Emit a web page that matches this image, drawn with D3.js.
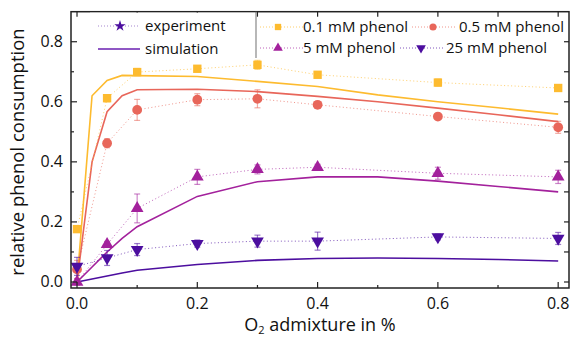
<!DOCTYPE html>
<html>
<head>
<meta charset="utf-8">
<script src="https://cdn.jsdelivr.net/npm/d3@7"></script>
<style>
  body { margin: 0; background: #fff; }
  svg { display: block; font-family: "Open Sans", sans-serif; }
</style>
</head>
<body>
<div id="chart"></div>
<script>
// experiment x positions (O2 admixture in %)
const expX = [0, 0.05, 0.1, 0.2, 0.3, 0.4, 0.6, 0.8];
const exp01 = [0.176, 0.612, 0.699, 0.71, 0.723, 0.69, 0.664, 0.646];
const err01 = [0.01, 0.012, 0.012, 0.01, 0.015, 0.01, 0.012, 0.01];
const exp05 = [0.042, 0.462, 0.573, 0.607, 0.61, 0.59, 0.551, 0.515];
const err05 = [0.03, 0.015, 0.035, 0.02, 0.03, 0.01, 0.01, 0.02];
const exp5 = [0.0, 0.125, 0.245, 0.35, 0.375, 0.382, 0.362, 0.35];
const err5 = [0.01, 0.01, 0.048, 0.025, 0.015, 0.01, 0.02, 0.022];
const exp25 = [0.052, 0.08, 0.108, 0.128, 0.136, 0.136, 0.15, 0.145];
const err25 = [0.03, 0.025, 0.02, 0.012, 0.02, 0.03, 0.01, 0.02];

// simulation curves
const simX = [0, 0.025, 0.05, 0.075, 0.1, 0.2, 0.3, 0.4, 0.5, 0.6, 0.7, 0.8];
const sim01 = [0, 0.62, 0.671, 0.688, 0.687, 0.684, 0.668, 0.651, 0.623, 0.60, 0.58, 0.559];
const sim05 = [0, 0.40, 0.567, 0.62, 0.64, 0.642, 0.634, 0.618, 0.60, 0.579, 0.557, 0.534];
const sim5 = [0, 0.05, 0.1, 0.145, 0.184, 0.285, 0.334, 0.35, 0.35, 0.336, 0.318, 0.30];
const sim25 = [0, 0.01, 0.02, 0.03, 0.039, 0.058, 0.072, 0.078, 0.08, 0.078, 0.075, 0.07];

const seriesNames = ["0.1 mM phenol", "0.5 mM phenol", "5 mM phenol", "25 mM phenol"];
const colors = ["#fdbb2f", "#e8665a", "#a3219c", "#4c0e9f"];
const symbols = [d3.symbolSquare, d3.symbolCircle, d3.symbolTriangle, d3.symbolTriangle];

const xTicks = [0, 0.2, 0.4, 0.6, 0.8];
const yTicks = [0, 0.2, 0.4, 0.6, 0.8];
const minorTicks = [0.1, 0.3, 0.5, 0.7];

const W = 570, H = 340;
const mLeft = 71, mRight = 569, mTop = 11.7, mBottom = 288;

const svg = d3.select("#chart").append("svg")
  .attr("width", W).attr("height", H);

const x = d3.scaleLinear().domain([-0.01, 0.818]).range([mLeft, mRight]);
const y = d3.scaleLinear().domain([-0.02, 0.9]).range([mBottom, mTop]);

const series = [
  { exp: exp01, err: err01, sim: sim01 },
  { exp: exp05, err: err05, sim: sim05 },
  { exp: exp5, err: err5, sim: sim5 },
  { exp: exp25, err: err25, sim: sim25 }
];

const plot = svg.append("g");

// simulation lines
const lineGen = d3.line().x(d => x(d[0])).y(d => y(d[1]));
series.forEach((s, i) => {
  plot.append("path")
    .datum(simX.map((v, j) => [v, s.sim[j]]))
    .attr("d", lineGen)
    .attr("fill", "none")
    .attr("stroke", colors[i])
    .attr("stroke-width", 1.6);
});

// experiment dotted lines, error bars, markers
series.forEach((s, i) => {
  const pts = expX.map((v, j) => [v, s.exp[j], s.err[j]]);
  plot.append("path")
    .datum(pts)
    .attr("d", lineGen)
    .attr("fill", "none")
    .attr("stroke", colors[i])
    .attr("stroke-opacity", 0.7)
    .attr("stroke-width", 1)
    .attr("stroke-dasharray", "1,2.5");

  const eb = plot.append("g").attr("stroke", colors[i]).attr("stroke-opacity", 0.55).attr("stroke-width", 1.2);
  pts.forEach(p => {
    const cx = x(p[0]);
    eb.append("line").attr("x1", cx).attr("x2", cx).attr("y1", y(p[1] - p[2])).attr("y2", y(p[1] + p[2]));
    eb.append("line").attr("x1", cx - 3).attr("x2", cx + 3).attr("y1", y(p[1] - p[2])).attr("y2", y(p[1] - p[2]));
    eb.append("line").attr("x1", cx - 3).attr("x2", cx + 3).attr("y1", y(p[1] + p[2])).attr("y2", y(p[1] + p[2]));
  });

  const size = i === 1 ? 75 : 70;
  plot.selectAll(null).data(pts).enter().append("path")
    .attr("d", d3.symbol().type(symbols[i]).size(size))
    .attr("transform", d => `translate(${x(d[0])},${y(d[1])})${i === 3 ? " rotate(180)" : ""}`)
    .attr("fill", colors[i]);
});

// axes frame with inward ticks
const ax = svg.append("g").attr("stroke", "#222");
ax.append("rect")
  .attr("x", mLeft).attr("y", mTop).attr("width", mRight - mLeft).attr("height", mBottom - mTop)
  .attr("fill", "none").attr("stroke-width", 1.5);

xTicks.forEach(t => {
  ax.append("line").attr("x1", x(t)).attr("x2", x(t)).attr("y1", mBottom).attr("y2", mBottom - 6).attr("stroke-width", 1.2);
  ax.append("line").attr("x1", x(t)).attr("x2", x(t)).attr("y1", mTop).attr("y2", mTop + 5).attr("stroke-width", 1.2);
});
minorTicks.forEach(t => {
  ax.append("line").attr("x1", x(t)).attr("x2", x(t)).attr("y1", mBottom).attr("y2", mBottom - 3).attr("stroke-width", 1.2);
  ax.append("line").attr("x1", x(t)).attr("x2", x(t)).attr("y1", mTop).attr("y2", mTop + 5).attr("stroke-width", 1.2);
  ax.append("line").attr("x1", mLeft).attr("x2", mLeft + 3).attr("y1", y(t)).attr("y2", y(t)).attr("stroke-width", 1.2);
  ax.append("line").attr("x1", mRight).attr("x2", mRight - 5).attr("y1", y(t)).attr("y2", y(t)).attr("stroke-width", 1.2);
});
yTicks.forEach(t => {
  ax.append("line").attr("x1", mLeft).attr("x2", mLeft + 6).attr("y1", y(t)).attr("y2", y(t)).attr("stroke-width", 1.2);
  ax.append("line").attr("x1", mRight).attr("x2", mRight - 5).attr("y1", y(t)).attr("y2", y(t)).attr("stroke-width", 1.2);
});

// tick labels
svg.append("g").selectAll("text").data(xTicks).enter().append("text")
  .attr("x", d => x(d)).attr("y", 309)
  .attr("text-anchor", "middle").attr("font-size", 16).attr("fill", "#111")
  .text(d => d3.format(".1f")(d));
svg.append("g").selectAll("text").data(yTicks).enter().append("text")
  .attr("x", 63).attr("y", d => y(d) + 5.5)
  .attr("text-anchor", "end").attr("font-size", 16).attr("fill", "#111")
  .text(d => d3.format(".1f")(d));

// axis titles
const xt = svg.append("text")
  .attr("x", 320).attr("y", 331)
  .attr("text-anchor", "middle").attr("font-size", 18).attr("fill", "#111");
xt.append("tspan").text("O");
xt.append("tspan").attr("font-size", 11).attr("dy", 3).text("2");
xt.append("tspan").attr("dy", -3).text(" admixture in %");

svg.append("text")
  .attr("transform", "translate(24,152) rotate(-90)")
  .attr("text-anchor", "middle").attr("font-size", 18.5).attr("fill", "#111")
  .text("relative phenol consumption");

// legend
const lg = svg.append("g").attr("font-size", 15).attr("fill", "#111");
lg.append("rect").attr("x", 90).attr("y", mTop + 1).attr("width", 165).attr("height", 46).attr("fill", "#fff");
lg.append("line").attr("x1", 256).attr("x2", 256).attr("y1", mTop).attr("y2", 58)
  .attr("stroke", "#888").attr("stroke-width", 1.2);

lg.append("line").attr("x1", 98).attr("x2", 140).attr("y1", 26).attr("y2", 26)
  .attr("stroke", colors[3]).attr("stroke-opacity", 0.5).attr("stroke-dasharray", "1,2");
lg.append("path").attr("d", d3.symbol().type(d3.symbolStar).size(40))
  .attr("transform", "translate(120,26)").attr("fill", colors[3]);
lg.append("text").attr("x", 145).attr("y", 31).text("experiment");
lg.append("line").attr("x1", 98).attr("x2", 140).attr("y1", 49).attr("y2", 49)
  .attr("stroke", "#6a1fb0").attr("stroke-width", 1.5);
lg.append("text").attr("x", 145).attr("y", 54).text("simulation");

const legPos = [
  { lx: 260, mx: 278, tx: 303, y: 27 },
  { lx: 412, mx: 433, tx: 459, y: 27 },
  { lx: 260, mx: 278, tx: 303, y: 48 },
  { lx: 400, mx: 421, tx: 446, y: 48 }
];
seriesNames.forEach((name, i) => {
  const p = legPos[i];
  lg.append("line").attr("x1", p.lx).attr("x2", p.lx + 43).attr("y1", p.y).attr("y2", p.y)
    .attr("stroke", colors[i]).attr("stroke-opacity", 0.7).attr("stroke-dasharray", "1,2");
  lg.append("path").attr("d", d3.symbol().type(symbols[i]).size(40))
    .attr("transform", `translate(${p.mx},${p.y})${i === 3 ? " rotate(180)" : ""}`)
    .attr("fill", colors[i]);
  lg.append("text").attr("x", p.tx).attr("y", p.y + 5).text(name);
});
</script>
</body>
</html>
